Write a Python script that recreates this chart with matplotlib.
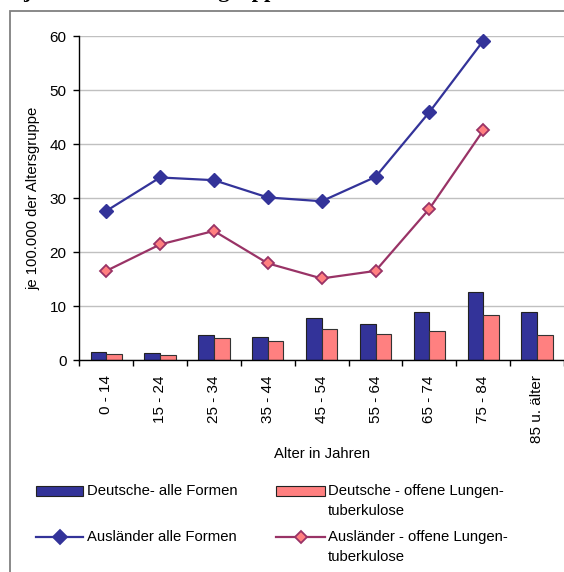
import numpy as np
import matplotlib
matplotlib.use("Agg")
import matplotlib.pyplot as plt
from matplotlib.patches import Rectangle
from matplotlib.lines import Line2D

plt.rcParams["font.family"] = ["Liberation Sans", "DejaVu Sans"]

age_groups = ["0 - 14", "15 - 24", "25 - 34", "35 - 44", "45 - 54",
              "55 - 64", "65 - 74", "75 - 84", "85 u. älter"]
deutsche_alle = [1.5, 1.3, 4.6, 4.2, 7.7, 6.7, 8.9, 12.6, 8.9]
deutsche_offen = [1.2, 0.9, 4.0, 3.5, 5.8, 4.8, 5.3, 8.4, 4.7]
auslaender_alle = [27.6, 33.8, 33.3, 30.1, 29.4, 33.9, 45.9, 59.1]
auslaender_offen = [16.5, 21.4, 23.9, 17.9, 15.1, 16.5, 28.0, 42.5]

BLUE = "#333399"
PINK = "#FF8080"
PLUM = "#993366"
FS = 10.7
TFS = 11

W, H = 564, 572


def fx(px):
    return px / W


def fy(py):
    return 1 - py / H


fig = plt.figure(figsize=(W / 100, H / 100), dpi=100)
ax = fig.add_axes([fx(79.3), fy(360), (W - 79.3) / W, (360 - 36) / H])

x = np.arange(len(age_groups))
bw = 0.29
ax.bar(x - bw / 2, deutsche_alle, bw, color=BLUE, edgecolor="#222222", linewidth=0.8, zorder=2)
ax.bar(x + bw / 2, deutsche_offen, bw, color=PINK, edgecolor="#333333", linewidth=0.8, zorder=2)

xl = x[:len(auslaender_alle)]
ax.plot(xl, auslaender_alle, color=BLUE, lw=1.6, marker="D", ms=7.5,
        mfc=BLUE, mec=BLUE, zorder=3, clip_on=False)
ax.plot(xl, auslaender_offen, color=PLUM, lw=1.6, marker="D", ms=6.5,
        mfc=PINK, mec=PLUM, mew=1.3, zorder=3, clip_on=False)

ax.set_xlim(-0.5, len(age_groups) - 0.5)
ax.set_ylim(0, 60)
ax.set_yticks(range(0, 61, 10))
ax.tick_params(axis="y", direction="out", length=4.3, width=1, labelsize=TFS, pad=5)
ax.set_xticks(x)
ax.set_xticklabels(age_groups, rotation=90, fontsize=TFS)
ax.tick_params(axis="x", which="major", length=0, pad=11)
ax.set_xticks(np.arange(-0.5, len(age_groups), 1), minor=True)
ax.tick_params(axis="x", which="minor", direction="out", length=4, width=1)

ax.grid(axis="y", color="#c0c0c0", lw=1)
ax.set_axisbelow(True)
for s in ["top", "right"]:
    ax.spines[s].set_visible(False)
for s in ["left", "bottom"]:
    ax.spines[s].set_linewidth(1)

ax.set_xlabel("Alter in Jahren", fontsize=FS)
ax.xaxis.set_label_coords(0.5, (360 - 454) / 324)
ax.xaxis.label.set_va("center")
ax.set_ylabel("je 100.000 der Altersgruppe", fontsize=FS)
ax.yaxis.set_label_coords((33 - 79.3) / (W - 79.3), 0.5)
ax.yaxis.label.set_va("center")

# title, cut by the top edge as in the source
fig.text(fx(23), fy(-3), "je 100.000 der Altersgruppe", family="Liberation Serif",
         weight="bold", fontsize=16, va="baseline")

# chart frame
fig.add_artist(Rectangle((fx(10), -0.05), 1.2, fy(11) + 0.05, transform=fig.transFigure,
                         fill=False, edgecolor="#808080", lw=1.3))

# legend
for x0, x1, color in [(36, 83, BLUE), (276, 325, PINK)]:
    fig.add_artist(Rectangle((fx(x0), fy(491 + 4.7)), (x1 - x0) / W, 9.3 / H,
                             transform=fig.transFigure, facecolor=color,
                             edgecolor="#222222", lw=0.8))
for x0, x1, color, mfc, ms in [(36, 83, BLUE, BLUE, 7.5), (276, 325, PLUM, PINK, 6.5)]:
    fig.add_artist(Line2D([fx(x0), fx(x1)], [fy(537)] * 2, transform=fig.transFigure,
                          color=color, lw=1.6))
    fig.add_artist(Line2D([fx((x0 + x1) / 2)], [fy(537)], transform=fig.transFigure,
                          marker="D", ms=ms, mfc=mfc, mec=color, mew=1.3, lw=0))

fig.text(fx(87), fy(491), "Deutsche- alle Formen", fontsize=FS, va="center")
fig.text(fx(328), fy(491), "Deutsche - offene Lungen-", fontsize=FS, va="center")
fig.text(fx(328), fy(511), "tuberkulose", fontsize=FS, va="center")
fig.text(fx(87), fy(537), "Ausländer alle Formen", fontsize=FS, va="center")
fig.text(fx(328), fy(537), "Ausländer - offene Lungen-", fontsize=FS, va="center")
fig.text(fx(328), fy(557), "tuberkulose", fontsize=FS, va="center")

fig.savefig("out.png", dpi=100)
